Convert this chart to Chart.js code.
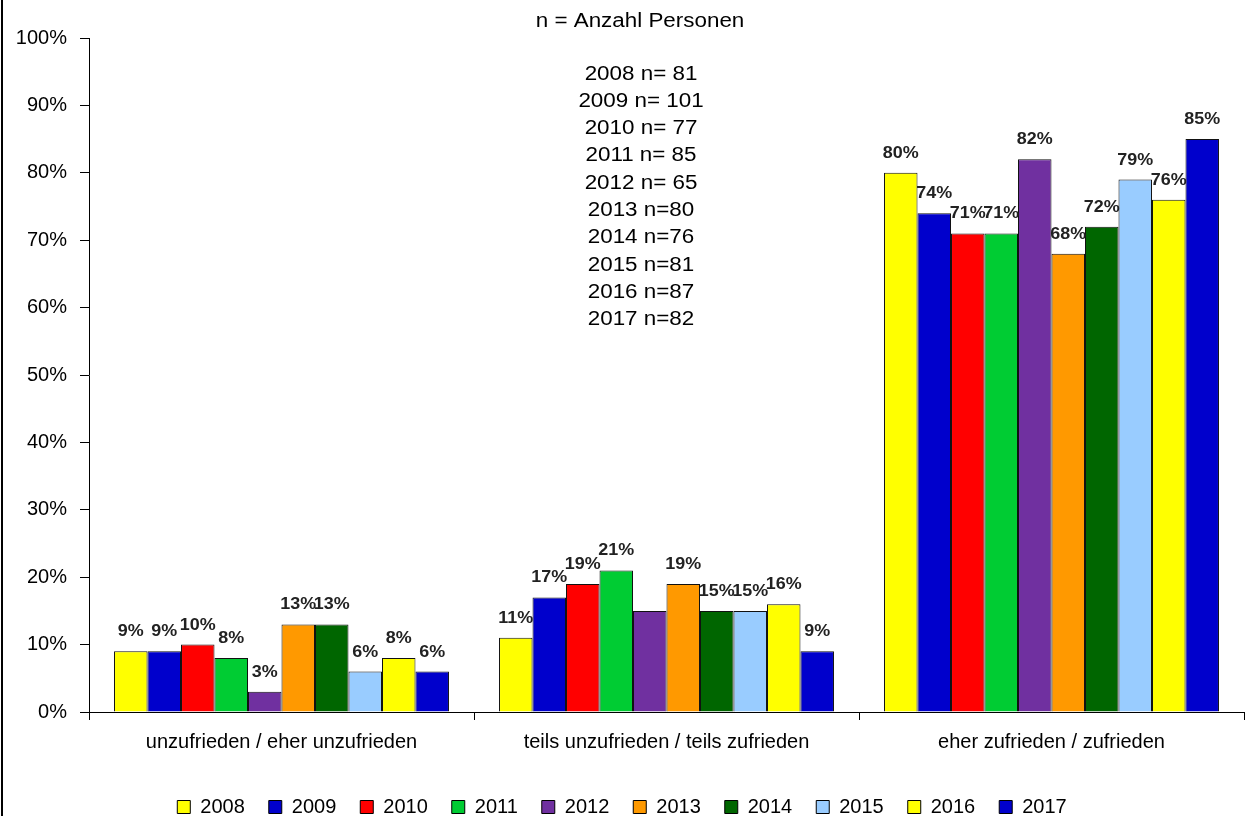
<!DOCTYPE html>
<html>
<head>
<meta charset="utf-8">
<script src="https://cdn.jsdelivr.net/npm/chart.js@4"></script>
<style>
  html, body { margin: 0; padding: 0; background: #fff; }
  #wrap { width: 1250px; height: 816px; }
</style>
</head>
<body>
<div id="wrap"><canvas id="chart" width="1250" height="816"></canvas></div>
<script>
// categories and years
const categories = ['unzufrieden / eher unzufrieden', 'teils unzufrieden / teils zufrieden', 'eher zufrieden / zufrieden'];
const years = ['2008', '2009', '2010', '2011', '2012', '2013', '2014', '2015', '2016', '2017'];

// values per year (%), one per category
const v2008 = [9, 11, 80];
const v2009 = [9, 17, 74];
const v2010 = [10, 19, 71];
const v2011 = [8, 21, 71];
const v2012 = [3, 15, 82];
const v2013 = [13, 19, 68];
const v2014 = [13, 15, 72];
const v2015 = [6, 15, 79];
const v2016 = [8, 16, 76];
const v2017 = [6, 9, 85];

const yTicks = [0, 10, 20, 30, 40, 50, 60, 70, 80, 90, 100];

// sample sizes as printed on the chart
const noteTitle = 'n = Anzahl Personen';
const noteLines = ['2008 n= 81', '2009 n= 101', '2010 n= 77', '2011 n= 85', '2012 n= 65',
  '2013 n=80', '2014 n=76', '2015 n=81', '2016 n=87', '2017 n=82'];

// the 2012 bar in the middle group has no label in the original
const hiddenLabel = { year: 4, category: 1 };

const colors = ['#FFFF00', '#0000CC', '#FF0000', '#00CC33', '#7030A0', '#FF9900', '#006600', '#99CCFF', '#FFFF00', '#0000CC'];
const seriesValues = [v2008, v2009, v2010, v2011, v2012, v2013, v2014, v2015, v2016, v2017];

const FONT = '"Liberation Sans", Arial, sans-serif';
const STRETCH = 1.12; // the original text is a bit wider than Arial

function wideText(ctx, text, x, y) {
  ctx.save();
  ctx.translate(x, y);
  ctx.scale(STRETCH, 1);
  ctx.fillText(text, 0, 0);
  ctx.restore();
}

const frameAndNotes = {
  id: 'frameAndNotes',
  afterLayout(chart) {
    // push the legend row down near the bottom edge like the original
    const lg = chart.legend;
    const shift = 816 - lg.bottom + 11;
    lg.top += shift;
    lg.bottom += shift;
  },
  afterDraw(chart) {
    const ctx = chart.ctx;
    ctx.save();
    ctx.fillStyle = '#000';
    ctx.fillRect(1, 0, 2, chart.height);

    ctx.textAlign = 'center';
    ctx.textBaseline = 'middle';
    ctx.font = '20px ' + FONT;
    wideText(ctx, noteTitle, 640, 21);
    noteLines.forEach((t, i) => {
      wideText(ctx, t, 641, 74 + i * 27.3);
    });
    ctx.restore();
  }
};

const barLabels = {
  id: 'barLabels',
  afterDatasetsDraw(chart) {
    const ctx = chart.ctx;
    ctx.save();
    ctx.font = 'bold 16px ' + FONT;
    ctx.fillStyle = '#222';
    ctx.textAlign = 'center';
    ctx.textBaseline = 'alphabetic';
    chart.data.datasets.forEach((ds, di) => {
      const meta = chart.getDatasetMeta(di);
      meta.data.forEach((bar, i) => {
        if (di === hiddenLabel.year && i === hiddenLabel.category) return;
        wideText(ctx, ds.data[i] + '%', bar.x, bar.y - 15);
      });
    });
    ctx.restore();
  }
};

new Chart(document.getElementById('chart'), {
  type: 'bar',
  data: {
    labels: categories,
    datasets: years.map((y, i) => ({
      label: y,
      data: seriesValues[i],
      backgroundColor: colors[i],
      borderColor: '#111',
      borderWidth: 1,
      categoryPercentage: 0.87,
      barPercentage: 1.0
    }))
  },
  options: {
    responsive: false,
    animation: false,
    layout: { padding: { top: 38, right: 6, left: 0, bottom: 0 } },
    plugins: {
      legend: {
        position: 'bottom',
        labels: {
          font: { family: FONT, size: 20 },
          color: '#000',
          boxWidth: 13,
          boxHeight: 13,
          padding: 24,
          generateLabels(chart) {
            return chart.data.datasets.map((ds, i) => ({
              text: ds.label,
              fillStyle: ds.backgroundColor,
              strokeStyle: '#000',
              lineWidth: 1,
              datasetIndex: i
            }));
          }
        }
      },
      tooltip: { enabled: false }
    },
    scales: {
      x: {
        grid: { drawOnChartArea: false, drawTicks: true, tickLength: 8, color: '#000', offset: true },
        border: { color: '#000', width: 1 },
        ticks: { font: { family: FONT, size: 20 }, color: '#000', padding: 10, maxRotation: 0 },
        afterFit(scale) { scale.height = 104 - scale.chart.legend.height; }
      },
      y: {
        min: 0,
        max: 100,
        afterBuildTicks(scale) { scale.ticks = yTicks.map(v => ({ value: v })); },
        grid: { drawOnChartArea: false, drawTicks: true, tickLength: 9, color: '#000' },
        border: { color: '#000', width: 1 },
        ticks: {
          font: { family: FONT, size: 20 },
          color: '#000',
          padding: 13,
          callback: v => v + '%'
        },
        afterFit(scale) { scale.width = 89; }
      }
    }
  },
  plugins: [frameAndNotes, barLabels]
});
</script>
</body>
</html>
